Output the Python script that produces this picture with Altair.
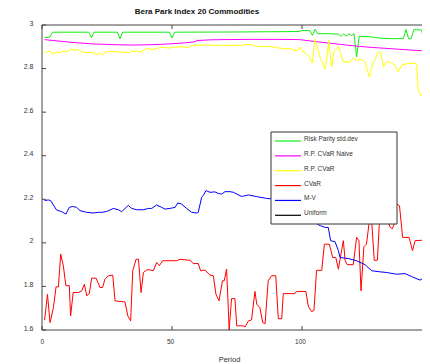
import altair as alt
import pandas as pd

title_text = "Bera Park Index 20 Commodities"
x_title = "Period"
series_names = ["Risk Parity std.dev", "R.P. CVaR Naive", "R.P. CVaR", "CVaR", "M-V", "Uniform"]
series_colors = ["#11ee11", "#ff00ff", "#ffff00", "#ff0000", "#0000ff", "#000000"]
x_ticks = [0, 50, 100, 150]
y_ticks = [1.6, 1.8, 2.0, 2.2, 2.4, 2.6, 2.8, 3.0]

# Risk Parity std.dev (green)
rp_std_t = [1, 3, 4, 18, 19, 20, 29, 30, 31, 49, 50, 51, 75, 99, 100, 103, 104, 105, 106, 110,
            114, 115, 116, 117, 118, 119, 120, 121, 122, 126, 130, 135, 139, 140, 141, 142, 143, 144, 146, 147,
            148, 150]
rp_std_v = [2.942, 2.944, 2.967, 2.967, 2.942, 2.967, 2.967, 2.937, 2.967, 2.967, 2.940, 2.967, 2.968, 2.970, 2.975, 2.974, 2.952, 2.980, 2.960, 2.960,
            2.958, 2.947, 2.960, 2.948, 2.960, 2.952, 2.960, 2.853, 2.948, 2.946, 2.940, 2.937, 2.938, 2.979, 2.937, 2.937, 2.979, 2.978, 2.977, 2.922,
            2.935, 2.930]

# R.P. CVaR Naive (magenta)
rp_naive_t = [1, 5, 10, 15, 20, 25, 30, 35, 40, 45, 50, 55, 58, 60, 65, 70, 80, 90, 99, 103,
              108, 112, 117, 122, 127, 132, 137, 142, 146, 150]
rp_naive_v = [2.933, 2.928, 2.922, 2.917, 2.913, 2.911, 2.909, 2.908, 2.909, 2.911, 2.914, 2.918, 2.922, 2.929, 2.932, 2.933, 2.934, 2.934, 2.933, 2.927,
              2.920, 2.915, 2.908, 2.902, 2.897, 2.893, 2.889, 2.885, 2.882, 2.879]

# R.P. CVaR (yellow)
rp_cvar_t = [1, 3.1, 4.1, 5.6, 6.9, 8.2, 9.5, 11.4, 12.7, 14, 15.3, 17.2, 19.7, 21, 22.3, 23.3, 24.2, 26.2, 30, 33.8,
             34.5, 35.4, 36.4, 37.7, 40.3, 42.8, 45.4, 47.3, 48.6, 50.5, 54.4, 56.3, 57.6, 63.3, 69.7, 76.2, 80, 82.6, 86.4, 89,
             92.8, 95.4, 97.3, 98.6, 99.2, 100.5, 102.4, 104, 105, 105.6, 106.9, 108.8, 109.5, 110.3, 110.8, 111.4, 112.3, 114, 115.9, 118.5,
             119.7, 121, 122.9, 124.2, 125.9, 127.2, 128.5, 129.4, 130.3, 131.3, 132.5, 133.8, 135.8, 137, 138.3, 140.2, 142.8, 144.1, 144.7, 146,
             146.9, 147.3, 148.2, 149.2, 150]
rp_cvar_v = [2.871, 2.881, 2.865, 2.876, 2.873, 2.879, 2.876, 2.891, 2.884, 2.887, 2.876, 2.874, 2.874, 2.864, 2.873, 2.861, 2.876, 2.879, 2.876, 2.873,
             2.884, 2.876, 2.881, 2.876, 2.891, 2.888, 2.896, 2.899, 2.893, 2.899, 2.899, 2.896, 2.907, 2.908, 2.906, 2.907, 2.911, 2.902, 2.902, 2.899,
             2.891, 2.891, 2.884, 2.884, 2.899, 2.876, 2.861, 2.825, 2.935, 2.910, 2.853, 2.799, 2.838, 2.930, 2.868, 2.807, 2.876, 2.902, 2.830, 2.830,
             2.850, 2.838, 2.842, 2.830, 2.761, 2.822, 2.853, 2.876, 2.876, 2.807, 2.830, 2.830, 2.815, 2.784, 2.815, 2.822, 2.825, 2.822, 2.700, 2.672,
             2.700, 2.799, 2.792, 2.807, 2.800]

# CVaR (red)
cvar_t = [1, 2.1, 3.1, 4.4, 5.4, 6.3, 7.2, 8.2, 9.2, 10.5, 11, 12, 14, 15.3, 16.3, 17.2, 18.2, 19.1, 20.8, 22.3,
          23.3, 24.2, 25.5, 27.2, 28.1, 30, 31.9, 33, 34.1, 34.9, 36.2, 37.1, 38.1, 39, 40.3, 41.5, 42.8, 44.1, 45.1, 46.4,
          51.8, 53.1, 55, 56.9, 58.2, 60.1, 61, 62.7, 64.6, 65.9, 66.9, 68.1, 69.4, 70.1, 71, 72, 72.9, 74.2, 74.9, 77.4,
          78.1, 79.4, 80.6, 81.9, 82.6, 83.8, 84.9, 85.8, 87, 88.3, 89.9, 90.9, 92.2, 92.8, 97.3, 97.9, 101.5, 102.4, 103.7, 104.6,
          105.6, 107.6, 108.6, 110.5, 111.8, 113, 114, 115.3, 115.9, 116.6, 117.4, 119.7, 121, 121.9, 122.7, 123.8, 124.8, 125.9, 126.8, 127.8,
          129, 129.7, 130.2, 131.5, 133, 134, 134.8, 135.5, 136.4, 137.5, 138.7, 141.2, 142.5, 143.5, 146.3, 147.6, 148.5, 150]
cvar_v = [1.645, 1.764, 1.634, 1.703, 1.798, 1.798, 1.948, 1.895, 1.803, 1.803, 1.665, 1.772, 1.772, 1.780, 1.810, 1.757, 1.767, 1.838, 1.838, 1.795,
          1.795, 1.833, 1.849, 1.852, 1.734, 1.731, 1.729, 1.665, 1.642, 1.872, 1.925, 1.925, 1.772, 1.864, 1.876, 1.876, 1.872, 1.910, 1.895, 1.918,
          1.918, 1.925, 1.922, 1.920, 1.905, 1.905, 1.872, 1.875, 1.852, 1.849, 1.764, 1.734, 1.826, 1.826, 1.880, 1.600, 1.744, 1.744, 1.619, 1.619,
          1.614, 1.642, 1.646, 1.777, 1.718, 1.703, 1.634, 1.629, 1.826, 1.849, 1.849, 1.652, 1.652, 1.767, 1.767, 1.777, 1.777, 1.710, 1.684, 1.690,
          1.874, 1.874, 1.994, 1.994, 1.933, 1.933, 1.879, 1.970, 2.010, 1.918, 1.900, 1.900, 2.025, 2.010, 1.780, 1.982, 1.994, 2.100, 2.100, 1.920,
          1.920, 2.080, 2.200, 2.200, 2.100, 2.070, 2.065, 2.090, 2.178, 2.170, 2.025, 2.025, 1.964, 2.010, 2.012, 2.010, 1.970, 1.980]

# M-V (blue)
mv_t = [1, 2.4, 3.3, 5.6, 7.6, 9.2, 10.5, 11.8, 13.3, 14.6, 17.2, 19.7, 21.7, 23, 24.9, 27.4, 29.4, 30.6, 33.2, 34.5,
        36.4, 39, 40.9, 42.2, 44.1, 46, 47.3, 49.2, 51.2, 52.2, 53.7, 55.6, 57.6, 59.5, 60.1, 61.4, 62, 63.1, 64.6, 66.5,
        67.8, 69.1, 70.4, 72.3, 73.6, 76.8, 79.4, 82.6, 86.4, 90, 95, 100, 103, 106, 107, 108.8, 110.1, 111, 112.7, 114,
        114.6, 117.8, 121, 124.2, 126.8, 130, 132.5, 136.4, 139.6, 142.2, 145.4, 146.7, 149.2, 150]
mv_v = [2.194, 2.197, 2.194, 2.151, 2.143, 2.132, 2.163, 2.167, 2.163, 2.148, 2.140, 2.137, 2.140, 2.140, 2.144, 2.158, 2.152, 2.143, 2.172, 2.158,
        2.152, 2.152, 2.158, 2.158, 2.174, 2.163, 2.155, 2.158, 2.163, 2.183, 2.178, 2.158, 2.140, 2.137, 2.140, 2.209, 2.217, 2.240, 2.232, 2.234,
        2.227, 2.224, 2.235, 2.235, 2.232, 2.213, 2.220, 2.212, 2.204, 2.200, 2.190, 2.170, 2.130, 2.085, 2.079, 2.071, 2.071, 2.010, 2.005, 1.964,
        1.933, 1.928, 1.918, 1.900, 1.872, 1.867, 1.864, 1.856, 1.859, 1.845, 1.829, 1.838, 1.833, 1.835]

series_data = [
    (series_names[0], rp_std_t, rp_std_v),
    (series_names[1], rp_naive_t, rp_naive_v),
    (series_names[2], rp_cvar_t, rp_cvar_v),
    (series_names[3], cvar_t, cvar_v),
    (series_names[4], mv_t, mv_v),
]
rows = []
for name, ts, vs in series_data:
    for t, v in zip(ts, vs):
        rows.append({"series": name, "period": t, "value": v})
df = pd.DataFrame(rows)

# plot keeps the reference's 2.6 px per period; the page clips it at the right edge
W, H = 380, 305
X_MAX = 150 * W / 390.0
AX = "#444444"
FONT = "Liberation Sans"

xs = alt.Scale(domain=[0, X_MAX], nice=False, zero=False)
ys = alt.Scale(domain=[1.6, 3.0], nice=False, zero=False)
cs = alt.Scale(domain=series_names, range=series_colors)

x_axis = alt.Axis(values=x_ticks, title=x_title, labelOffset=-2, labelPadding=8,
                  labelFontSize=6.5, titleFontSize=7.5, titleFontWeight="normal",
                  titleX=187, titleY=29, titleBaseline="middle", titleAlign="center",
                  titleColor="#333333", titleFont=FONT)
y_axis = alt.Axis(values=y_ticks, format="~g", title=None, labelPadding=9,
                  labelBaseline="alphabetic", labelFontSize=7)

lines = alt.Chart(df).mark_line(strokeWidth=1, clip=True).encode(
    x=alt.X("period:Q", scale=xs, axis=x_axis),
    y=alt.Y("value:Q", scale=ys, axis=y_axis),
    color=alt.Color("series:N", scale=cs, legend=None),
    detail="series:N",
)

yt = pd.DataFrame({"value": y_ticks})
xt = pd.DataFrame({"period": x_ticks})
ytl = alt.Chart(yt).mark_rule(color=AX, strokeWidth=1).encode(
    y=alt.Y("value:Q", scale=ys, axis=y_axis), x=alt.value(0), x2=alt.value(4))
xtb = alt.Chart(xt).mark_rule(color=AX, strokeWidth=1).encode(
    x=alt.X("period:Q", scale=xs, axis=x_axis), y=alt.value(H - 4), y2=alt.value(H))
xtt = alt.Chart(xt).mark_rule(color=AX, strokeWidth=1).encode(
    x=alt.X("period:Q", scale=xs, axis=x_axis), y=alt.value(0), y2=alt.value(4))

main = alt.layer(lines, ytl, xtb, xtt)

one = pd.DataFrame({"t": [title_text]})
frame_left = alt.Chart(one).mark_rule(color=AX, strokeWidth=1).encode(
    x=alt.value(0), y=alt.value(0), y2=alt.value(H))
frame_top = alt.Chart(one).mark_rule(color=AX, strokeWidth=1).encode(
    x=alt.value(0), x2=alt.value(W + 2), y=alt.value(0))
frame_bottom = alt.Chart(one).mark_rule(color=AX, strokeWidth=1).encode(
    x=alt.value(0), x2=alt.value(W + 2), y=alt.value(H))
title_mark = alt.Chart(one).mark_text(align="center", baseline="middle", fontSize=8, fontWeight="bold",
                                      font=FONT, color="#111111").encode(
    x=alt.value(155), y=alt.value(-13.5), text="t:N")

leg_df = pd.DataFrame({"series": series_names, "row": list(range(len(series_names)))})
leg_scale = alt.Scale(domain=[0, 5], range=[116, 190.3])
box = alt.Chart(one).mark_rect(fill="white", stroke="#333333", strokeWidth=1).encode(
    x=alt.value(229), x2=alt.value(355), y=alt.value(107), y2=alt.value(199))
samples = alt.Chart(leg_df).mark_rule(strokeWidth=1.2).encode(
    y=alt.Y("row:Q", scale=leg_scale, axis=None),
    x=alt.value(233), x2=alt.value(259),
    color=alt.Color("series:N", scale=cs, legend=None))
labels = alt.Chart(leg_df).mark_text(align="left", baseline="middle", dy=-2, fontSize=6.5,
                                     font=FONT, color="#333333").encode(
    y=alt.Y("row:Q", scale=leg_scale, axis=None),
    x=alt.value(262), text="series:N")
overlay = alt.layer(frame_left, frame_top, frame_bottom, title_mark, box, samples, labels)

chart = alt.layer(main, overlay).resolve_scale(y="independent").properties(
    width=W, height=H,
    autosize=alt.AutoSizeParams(type="none"),
    padding={"left": 34, "top": 17, "right": 0, "bottom": 35},
    background="white",
).configure_view(stroke=None).configure_axis(
    labelFont=FONT, labelColor="#333333", domain=False, ticks=False, grid=False,
)

chart.save("out.html", embed_options={"renderer": "svg", "actions": False})
